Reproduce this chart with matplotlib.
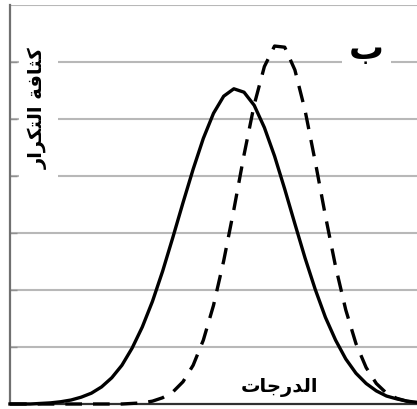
import matplotlib
matplotlib.use("Agg")
import matplotlib.pyplot as plt

# x positions (scores) and densities
x_solid = [0, 2.5, 5, 7.5, 10, 12.5, 15, 17.5, 20, 22.5, 25, 27.5, 30, 32.5, 35,
           37.5, 40, 42.5, 45, 47.5, 50, 52.5, 55, 57.5, 60, 62.5, 65, 67.5, 70,
           72.5, 75, 77.5, 80, 82.5, 85, 87.5, 90, 92.5, 95, 97.5, 100]
y_solid = [0.0, 0.0, 0.0, 0.01, 0.02, 0.04, 0.07, 0.12, 0.19, 0.30, 0.46, 0.68,
           0.98, 1.35, 1.80, 2.33, 2.92, 3.53, 4.12, 4.66, 5.10, 5.40, 5.53, 5.47,
           5.24, 4.85, 4.35, 3.77, 3.16, 2.56, 2.01, 1.52, 1.12, 0.79, 0.54, 0.36,
           0.23, 0.14, 0.09, 0.05, 0.03]

x_dashed = [0, 10, 20, 27.5, 30, 32.5, 35, 37.5, 40, 42.5, 45, 47.5, 50, 52.5, 55,
            57.5, 60, 62.5, 65, 67.5, 70, 72.5, 75, 77.5, 80, 82.5, 85, 87.5, 90,
            92.5, 95, 97.5, 100]
y_dashed = [0.0, 0.0, 0.0, 0.0, 0.01, 0.02, 0.05, 0.11, 0.21, 0.39, 0.68, 1.12,
            1.73, 2.51, 3.41, 4.37, 5.25, 5.92, 6.28, 6.26, 5.86, 5.15, 4.25, 3.30,
            2.41, 1.65, 1.06, 0.64, 0.36, 0.19, 0.10, 0.05, 0.02]

grid_levels = [1, 2, 3, 4, 5, 6, 7]

# Arabic written in presentation forms, visual order (matplotlib does no shaping)
label_panel = "\u0628"
label_y = "\ufead\ufe8d\ufeae\ufedc\ufe98\ufedf\ufe8d \ufe94\ufed3\ufe8e\ufe9c\ufedb"
label_x = "\ufe95\ufe8e\ufe9f\ufead\ufeaa\ufedf\ufe8d"

fig = plt.figure(figsize=(4.17, 4.10), dpi=100)
ax = fig.add_axes([10 / 417, 5 / 410, 1 - 10 / 417, 399 / 410])

for lv in grid_levels:
    ax.axhline(lv, color="#b8b8b8", lw=1.5, zorder=1)

ax.plot(x_solid, y_solid, color="black", lw=2.4, zorder=3, clip_on=False)
ax.plot(x_dashed, y_dashed, color="black", lw=2.4, ls=(0, (5, 3.3)), zorder=3,
        clip_on=False)

ax.set_xlim(0, 100)
ax.set_ylim(0, 7)
ax.set_xticks([])
ax.set_yticks(grid_levels[:-1])
ax.set_yticklabels([])
ax.tick_params(axis="y", direction="in", length=5, width=1, color="#909090")
for side in ["top", "right"]:
    ax.spines[side].set_visible(False)
ax.spines["left"].set_color("#707070")
ax.spines["left"].set_linewidth(1.6)
ax.spines["bottom"].set_color("#303030")
ax.spines["bottom"].set_linewidth(1.6)

ax.text(87.5, 6.25, label_panel, fontsize=25, fontweight="bold",
        family="DejaVu Sans", ha="center", va="center",
        bbox=dict(facecolor="white", edgecolor="none", pad=5), zorder=4)
ax.text(7.0, 5.2, label_y, fontsize=14, fontweight="bold", rotation=90,
        family="DejaVu Sans", ha="center", va="center",
        bbox=dict(facecolor="white", edgecolor="none", pad=7), zorder=4)
ax.text(66.3, 0.30, label_x, fontsize=14, fontweight="bold",
        family="DejaVu Sans", ha="center", va="center", zorder=4)

fig.savefig("out.png", dpi=100)
